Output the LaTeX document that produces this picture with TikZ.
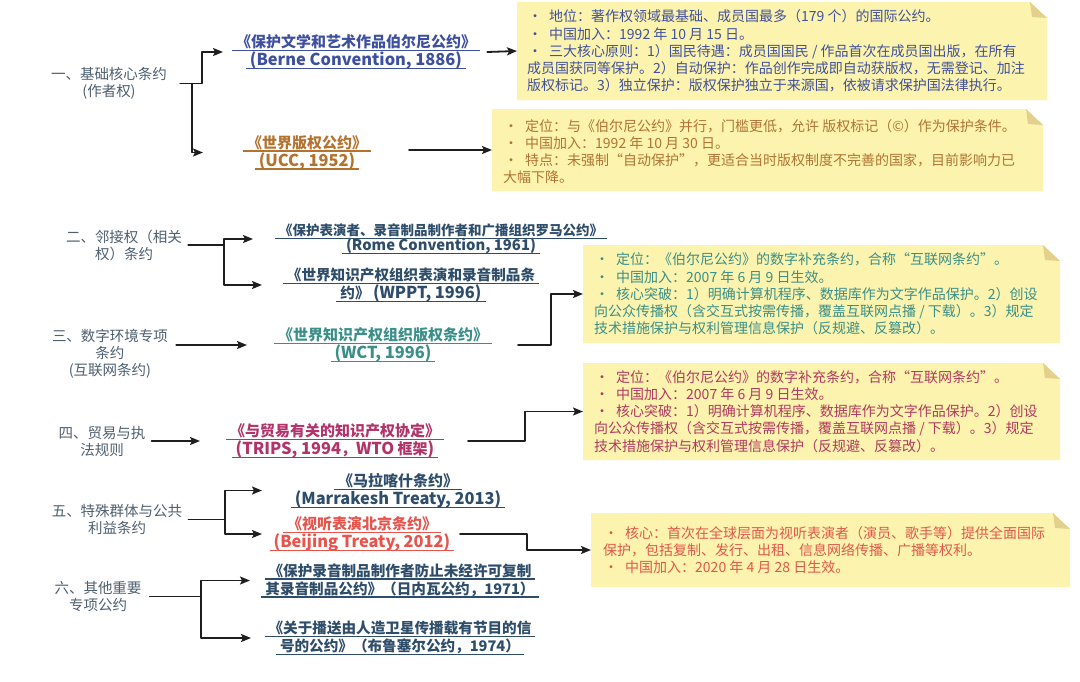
\documentclass[tikz,border=0pt]{standalone}
\usepackage{fontspec}
\setmainfont{Noto Sans CJK SC}
\usetikzlibrary{arrows.meta,backgrounds,fit,calc}
\definecolor{labc}{HTML}{4E5F70}
\definecolor{cblue}{HTML}{3D4FA0}
\definecolor{cbrown}{HTML}{B5722E}
\definecolor{cslate}{HTML}{2E4D6A}
\definecolor{cteal}{HTML}{3A8F88}
\definecolor{cmag}{HTML}{B2326A}
\definecolor{cred}{HTML}{E8534B}
\definecolor{nblue}{HTML}{41519C}
\definecolor{nbrown}{HTML}{B07434}
\definecolor{nteal}{HTML}{3A8F88}
\definecolor{nmag}{HTML}{B03A60}
\definecolor{nred}{HTML}{E0584A}
\definecolor{notebg}{HTML}{FCF3AE}
\definecolor{foldc}{HTML}{E2D08C}
\definecolor{ink}{HTML}{1E1E1E}
\lineskiplimit=-100pt
\newcommand\ulx[1]{\setbox0=\hbox{\hspace{4pt}#1\hspace{4pt}}\rlap{\rule[-3.5pt]{\wd0}{1.1pt}}\box0}
\newcommand\lt[1]{{\fontsize{16.4}{18}\selectfont #1}}
\newcommand\bul{\makebox[22pt][l]{\hspace{1pt}·}}
\newcommand\sticky[5]{%
  \coordinate (#1a) at (#2,#3);
  \coordinate (#1b) at (#4,#5);
  \node[inner sep=0pt, outer sep=0pt, fit=(#1a)(#1b)] (#1) {};
  \fill[notebg] (#1.south west) -- (#1.north west) -- ([xshift=-17pt]#1.north east) -- ([yshift=-16pt]#1.north east) -- (#1.south east) -- cycle;
  \fill[foldc] ([xshift=-17pt]#1.north east) -- ([yshift=-16pt]#1.north east) -- ([xshift=-15pt,yshift=-15pt]#1.north east) -- cycle;
}
\begin{document}
\begin{tikzpicture}[x=1pt,y=-1pt,
  lab/.style={font=\fontsize{14.5}{17}\selectfont, text=labc, align=center, inner sep=0pt},
  ttl/.style={font=\bfseries\fontsize{15}{18}\selectfont, align=center, inner sep=0pt},
  ttls/.style={font=\bfseries\fontsize{14.6}{18}\selectfont, align=center, inner sep=0pt},
  note/.style={font=\fontsize{14}{17.2}\selectfont, align=left, inner sep=0pt, anchor=west},
  ln/.style={draw=ink, line width=1.8pt, line cap=round, line join=round},
  arr/.style={ln, -{Stealth[length=10pt,width=8pt,inset=2pt]}}]
\useasboundingbox (0,0) rectangle (1080,681);
\fill[white] (0,0) rectangle (1080,681);

% x positions for connector bends and tips
\coordinate (x192) at (192,0); \coordinate (x202) at (202,0);
\coordinate (x203) at (203,0); \coordinate (x223) at (223,0);
\coordinate (x409) at (409,0);
\coordinate (x224) at (224,0); \coordinate (x253) at (253,0); \coordinate (x262) at (262,0);
\coordinate (x247) at (247,0); \coordinate (x518) at (518,0); \coordinate (x551) at (551,0);
\coordinate (x200) at (200,0); \coordinate (x468) at (468,0); \coordinate (x525) at (525,0);
\coordinate (x225) at (225,0); \coordinate (x460) at (460,0); \coordinate (x527) at (527,0);
\coordinate (x201) at (201,0); \coordinate (x250) at (250,0); \coordinate (x251) at (251,0);

% sticky notes
\sticky{N1}{517}{2}{1047}{100}
\sticky{N2}{492}{109}{1043}{191}
\sticky{N3}{583}{245}{1060}{343}
\sticky{N4}{583}{363}{1060}{460}
\sticky{N5}{591}{513}{1070}{587}

\node[note,text=nblue] (N1t) at (527,51) {\bul 地位：著作权领域最基础、成员国最多（179 个）的国际公约。\\\bul 中国加入：1992 年 10 月 15 日。\\\bul 三大核心原则：1）国民待遇：成员国国民 / 作品首次在成员国出版，在所有\\成员国获同等保护。2）自动保护：作品创作完成即自动获版权，无需登记、加注\\版权标记。3）独立保护：版权保护独立于来源国，依被请求保护国法律执行。};
\node[note,text=nbrown] (N2t) at (503,151.5) {\bul 定位：与《伯尔尼公约》并行，门槛更低，允许 版权标记（©）作为保护条件。\\\bul 中国加入：1992 年 10 月 30 日。\\\bul 特点：未强制“自动保护”，更适合当时版权制度不完善的国家，目前影响力已\\大幅下降。};
\node[note,text=nteal] (N3t) at (594,294) {\bul 定位：《伯尔尼公约》的数字补充条约，合称“互联网条约”。\\\bul 中国加入：2007 年 6 月 9 日生效。\\\bul 核心突破：1）明确计算机程序、数据库作为文字作品保护。2）创设\\向公众传播权（含交互式按需传播，覆盖互联网点播 / 下载）。3）规定\\技术措施保护与权利管理信息保护（反规避、反篡改）。};
\node[note,text=nmag] (N4t) at (594,411.5) {\bul 定位：《伯尔尼公约》的数字补充条约，合称“互联网条约”。\\\bul 中国加入：2007 年 6 月 9 日生效。\\\bul 核心突破：1）明确计算机程序、数据库作为文字作品保护。2）创设\\向公众传播权（含交互式按需传播，覆盖互联网点播 / 下载）。3）规定\\技术措施保护与权利管理信息保护（反规避、反篡改）。};
\node[note,text=nred] (N5t) at (603,550) {\bul 核心：首次在全球层面为视听表演者（演员、歌手等）提供全面国际\\保护，包括复制、发行、出租、信息网络传播、广播等权利。\\\bul 中国加入：2020 年 4 月 28 日生效。};

% category labels
\node[lab] (L1) at (109,83.5) {一、基础核心条约\\(作者权)};
\node[lab] (L2) at (124,245) {二、邻接权（相关\\权）条约};
\node[lab] (L3) at (110,354) {三、数字环境专项\\条约\\(互联网条约)};
\node[lab] (L4) at (102,441) {四、贸易与执\\法规则};
\node[lab] (L5) at (117,519.5) {五、特殊群体与公共\\利益条约};
\node[lab] (L6) at (98,596.5) {六、其他重要\\专项公约};

% treaty titles
\node[ttl,text=cblue] (T1) at (356,52) {\ulx{《保护文学和艺术作品伯尔尼公约》}\\\ulx{\lt{(Berne Convention, 1886)}}};
\node[ttl,text=cbrown] (T2) at (307,152.5) {\ulx{《世界版权公约》}\\\ulx{\lt{(UCC, 1952)}}};
\node[ttl,text=cslate,font=\bfseries\fontsize{13.5}{14.5}\selectfont] (T3) at (441,239) {\ulx{《保护表演者、录音制品制作者和广播组织罗马公约》}\\\ulx{{\fontsize{14.8}{14.5}\selectfont (Rome Convention, 1961)}}};
\node[ttls,text=cslate] (T4) at (411,285) {\ulx{《世界知识产权组织表演和录音制品条}\\\ulx{约》 \lt{(WPPT, 1996)}}};
\node[ttl,text=cteal] (T5) at (383,345) {\ulx{《世界知识产权组织版权条约》}\\\ulx{\lt{(WCT, 1996)}}};
\node[ttl,text=cmag] (T6) at (335,441) {\ulx{《与贸易有关的知识产权协定》}\\\ulx{\lt{(TRIPS, 1994}，\lt{WTO} 框架\lt{)}}};
\node[ttl,text=cslate] (T7) at (398,490.5) {\ulx{《马拉喀什条约》}\\\ulx{\lt{(Marrakesh Treaty, 2013)}}};
\node[ttl,text=cred] (T8) at (362,534) {\ulx{《视听表演北京条约》}\\\ulx{\lt{(Beijing Treaty, 2012)}}};
\node[ttls,text=cslate] (T9) at (400,580.5) {\ulx{《保护录音制品制作者防止未经许可复制}\\\ulx{其录音制品公约》（日内瓦公约，1971）}};
\node[ttls,text=cslate] (T10) at (400,638) {\ulx{《关于播送由人造卫星传播载有节目的信}\\\ulx{号的公约》（布鲁塞尔公约，1974）}};

% connectors
\draw[arr] ([xshift=13pt]L1.east) -- (x202 |- L1.east) |- (x223 |- T1.west);
\draw[arr] (x192 |- L1.east) |- (x203 |- T2.west);
\draw[arr] ([xshift=7pt]T1.east) -- (N1.west);
\draw[arr] (x409 |- N2.west) -- (N2.west);

\draw[arr] ([xshift=6pt]L2.east) -- (x224 |- L2.east) |- (x253 |- T3.west);
\draw[arr] (x224 |- L2.east) |- (x262 |- T4.west);

\draw[arr] ([xshift=8pt]L3.east |- T5.west) -- (x247 |- T5.west);
\draw[arr] (x518 |- T5.east) -- (x551 |- T5.east) |- (N3.west);

\draw[arr] ([xshift=6pt]L4.east) -- (x200 |- T6.west);
\draw[arr] (x468 |- T6.east) -- (x525 |- T6.east) |- (N4.west);

\draw[arr] ([xshift=6pt]L5.east) -- (x225 |- L5.east) |- (x262 |- T7.west);
\draw[arr] (x225 |- L5.east) |- (x262 |- T8.west);
\draw[arr] (x460 |- T8.east) -- (x527 |- T8.east) |- (N5.west);

\draw[arr] ([xshift=8pt]L6.east) -- (x201 |- L6.east) |- (x250 |- T9.west);
\draw[arr] (x201 |- L6.east) |- (x251 |- T10.west);
\end{tikzpicture}
\end{document}
